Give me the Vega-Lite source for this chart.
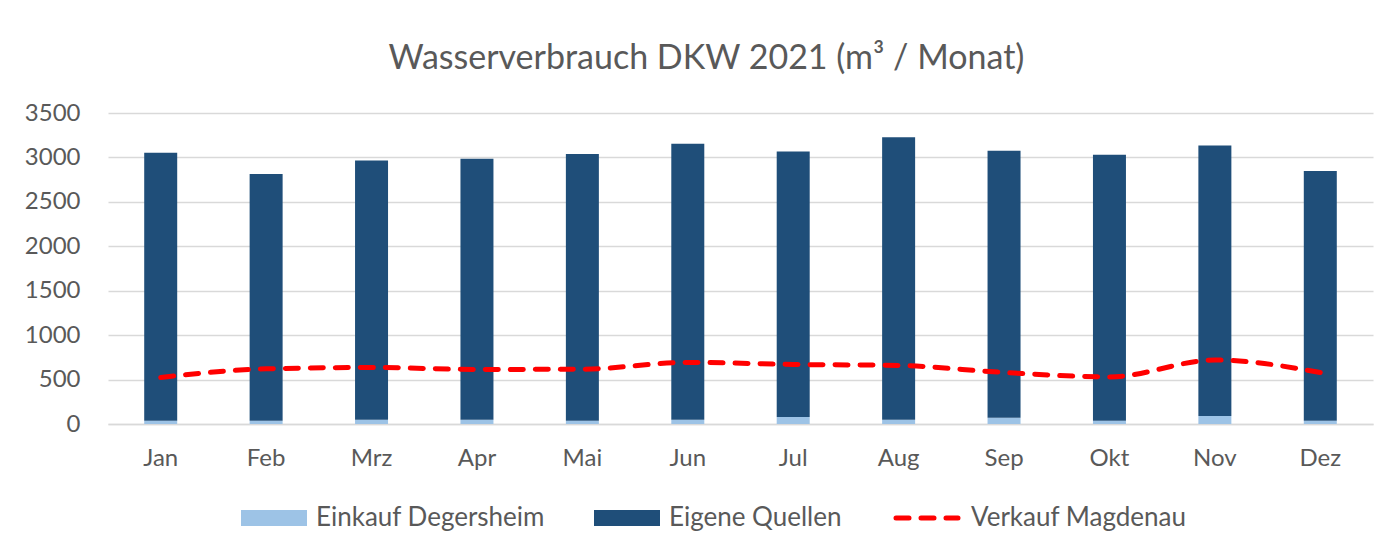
{
  "$schema": "https://vega.github.io/schema/vega-lite/v6.json",
  "width": 1265,
  "height": 311,
  "autosize": {"type": "none"},
  "padding": {"left": 108, "top": 113, "right": 21, "bottom": 126},
  "background": "white",
  "title": {
    "text": "Wasserverbrauch DKW 2021 (m³ / Monat)",
    "font": "Lato",
    "fontSize": 34,
    "fontWeight": "normal",
    "color": "#595959",
    "anchor": "middle",
    "offset": 25,
    "dx": -34
  },
  "data": {
    "values": [
      {"month": "Jan", "series": "Einkauf Degersheim", "value": 37},
      {"month": "Feb", "series": "Einkauf Degersheim", "value": 37},
      {"month": "Mrz", "series": "Einkauf Degersheim", "value": 49},
      {"month": "Apr", "series": "Einkauf Degersheim", "value": 49},
      {"month": "Mai", "series": "Einkauf Degersheim", "value": 37},
      {"month": "Jun", "series": "Einkauf Degersheim", "value": 49},
      {"month": "Jul", "series": "Einkauf Degersheim", "value": 79},
      {"month": "Aug", "series": "Einkauf Degersheim", "value": 49},
      {"month": "Sep", "series": "Einkauf Degersheim", "value": 71},
      {"month": "Okt", "series": "Einkauf Degersheim", "value": 37},
      {"month": "Nov", "series": "Einkauf Degersheim", "value": 90},
      {"month": "Dez", "series": "Einkauf Degersheim", "value": 37},
      {"month": "Jan", "series": "Eigene Quellen", "value": 3016},
      {"month": "Feb", "series": "Eigene Quellen", "value": 2777},
      {"month": "Mrz", "series": "Eigene Quellen", "value": 2917},
      {"month": "Apr", "series": "Eigene Quellen", "value": 2936},
      {"month": "Mai", "series": "Eigene Quellen", "value": 3001},
      {"month": "Jun", "series": "Eigene Quellen", "value": 3106},
      {"month": "Jul", "series": "Eigene Quellen", "value": 2989},
      {"month": "Aug", "series": "Eigene Quellen", "value": 3178},
      {"month": "Sep", "series": "Eigene Quellen", "value": 3005},
      {"month": "Okt", "series": "Eigene Quellen", "value": 2993},
      {"month": "Nov", "series": "Eigene Quellen", "value": 3043},
      {"month": "Dez", "series": "Eigene Quellen", "value": 2811},
      {"month": "Jan", "series": "Verkauf Magdenau", "value": 523},
      {"month": "Feb", "series": "Verkauf Magdenau", "value": 621},
      {"month": "Mrz", "series": "Verkauf Magdenau", "value": 636},
      {"month": "Apr", "series": "Verkauf Magdenau", "value": 614},
      {"month": "Mai", "series": "Verkauf Magdenau", "value": 617},
      {"month": "Jun", "series": "Verkauf Magdenau", "value": 693},
      {"month": "Jul", "series": "Verkauf Magdenau", "value": 670},
      {"month": "Aug", "series": "Verkauf Magdenau", "value": 659},
      {"month": "Sep", "series": "Verkauf Magdenau", "value": 580},
      {"month": "Okt", "series": "Verkauf Magdenau", "value": 530},
      {"month": "Nov", "series": "Verkauf Magdenau", "value": 720},
      {"month": "Dez", "series": "Verkauf Magdenau", "value": 580}
    ]
  },
  "encoding": {
    "x": {
      "field": "month",
      "type": "nominal",
      "sort": ["Jan", "Feb", "Mrz", "Apr", "Mai", "Jun", "Jul", "Aug", "Sep", "Okt", "Nov", "Dez"],
      "scale": {"paddingInner": 0.687, "paddingOuter": 0.3435},
      "axis": {
        "title": null,
        "labelAngle": 0,
        "labelFont": "Lato",
        "labelFontSize": 24,
        "labelColor": "#595959",
        "labelPadding": 22,
        "ticks": false,
        "domain": true,
        "domainColor": "#D9D9D9",
        "domainWidth": 1.5,
        "grid": false
      }
    }
  },
  "layer": [
    {
      "transform": [{"filter": "datum.series !== 'Verkauf Magdenau'"}],
      "mark": {"type": "bar"},
      "encoding": {
        "y": {
          "field": "value",
          "type": "quantitative",
          "stack": "zero",
          "scale": {"domain": [0, 3500], "nice": false},
          "axis": {
            "title": null,
            "values": [0, 500, 1000, 1500, 2000, 2500, 3000, 3500],
            "format": "d",
            "labelFont": "Lato",
            "labelFontSize": 24,
            "labelColor": "#595959",
            "labelPadding": 28,
            "ticks": false,
            "domain": false,
            "grid": true,
            "gridColor": "#D9D9D9",
            "gridWidth": 1.5
          }
        },
        "color": {
          "field": "series",
          "type": "nominal",
          "scale": {
            "domain": ["Einkauf Degersheim", "Eigene Quellen", "Verkauf Magdenau"],
            "range": ["#9DC3E6", "#1F4E79", "#FF0000"]
          },
          "legend": {
            "title": null,
            "orient": "none",
            "legendX": 128,
            "legendY": 392,
            "direction": "horizontal",
            "labelFont": "Lato",
            "labelFontSize": 26,
            "labelColor": "#595959",
            "labelLimit": 500,
            "symbolSize": 256,
            "labelOffset": 54,
            "columnPadding": 44,
            "encoding": {
              "symbols": {
                "shape": {"value": {"expr": "datum.value === 'Verkauf Magdenau' ? 'M-1,0H6.75' : 'M-1,-1H7.25V1H-1Z'"}},
                "fill": {"value": {"expr": "datum.value === 'Verkauf Magdenau' ? 'transparent' : (datum.value === 'Einkauf Degersheim' ? '#9DC3E6' : '#1F4E79')"}},
                "stroke": {"value": {"expr": "datum.value === 'Verkauf Magdenau' ? '#FF0000' : 'transparent'"}},
                "strokeWidth": {"value": {"expr": "datum.value === 'Verkauf Magdenau' ? 5 : 0"}},
                "strokeDash": {"value": {"expr": "datum.value === 'Verkauf Magdenau' ? [13, 12] : [1, 0]"}},
                "strokeCap": {"value": "round"},
                "opacity": {"value": 1}
              }
            }
          }
        },
        "order": {"field": "series", "sort": "descending"}
      }
    },
    {
      "transform": [{"filter": "datum.series === 'Verkauf Magdenau'"}],
      "mark": {
        "type": "line",
        "interpolate": "monotone",
        "strokeWidth": 5,
        "strokeDash": [13, 12],
        "strokeCap": "round"
      },
      "encoding": {
        "y": {"field": "value", "type": "quantitative"},
        "color": {"field": "series", "type": "nominal"}
      }
    }
  ],
  "config": {
    "view": {"stroke": null},
    "font": "Lato"
  }
}
